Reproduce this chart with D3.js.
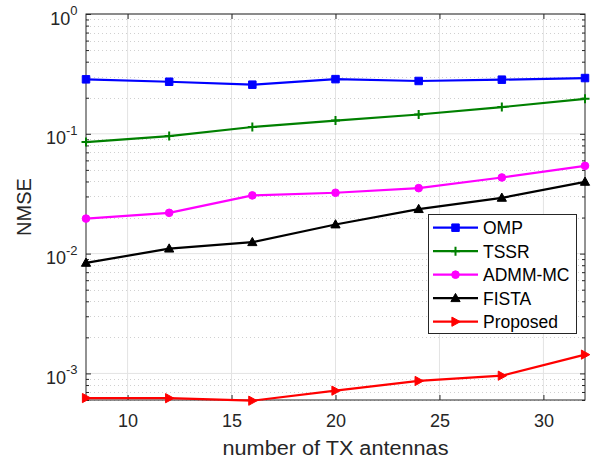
<!DOCTYPE html>
<html><head><meta charset="utf-8">
<script src="https://cdn.jsdelivr.net/npm/d3@7"></script>
<style>
html,body{margin:0;padding:0;background:#fff;}
svg{display:block;font-family:"Liberation Sans",Arial,Helvetica,sans-serif;}
</style></head>
<body><svg id="chart" width="593" height="460"></svg>
<script>
// ---- data ----
const antennas = [8, 12, 16, 20, 24, 28, 32];
const seriesNames = ["OMP", "TSSR", "ADMM-MC", "FISTA", "Proposed"];
const ompNMSE = [0.285, 0.272, 0.257, 0.286, 0.276, 0.283, 0.292];
const tssrNMSE = [0.0853, 0.0957, 0.114, 0.129, 0.145, 0.167, 0.196];
const admmNMSE = [0.0196, 0.0219, 0.0306, 0.0322, 0.0352, 0.0432, 0.054];
const fistaNMSE = [0.00837, 0.0110, 0.01245, 0.0175, 0.0235, 0.0292, 0.0397];
const proposedNMSE = [0.000623, 0.000621, 0.000592, 0.000718, 0.000865, 0.000957, 0.001435];
const xTickValues = [10, 15, 20, 25, 30];
const yTickExponents = [-3, -2, -1, 0];
const xLabel = "number of TX antennas";
const yLabel = "NMSE";

// ---- layout ----
const svg = d3.select("#chart");
const L = 86, R = 585, T = 14, B = 400;
const axisCol = "#262626";
const x = d3.scaleLinear().domain([8, 32]).range([L, R]);
const y = d3.scaleLog().domain([6e-4, 1]).range([B, T]);

const series = [
  {name: seriesNames[0], vals: ompNMSE, color: "#0000ff", marker: "square"},
  {name: seriesNames[1], vals: tssrNMSE, color: "#008000", marker: "plus"},
  {name: seriesNames[2], vals: admmNMSE, color: "#ff00ff", marker: "circle"},
  {name: seriesNames[3], vals: fistaNMSE, color: "#000000", marker: "tri"},
  {name: seriesNames[4], vals: proposedNMSE, color: "#ff0000", marker: "right"}
];

// minor tick values
const minorVals = [];
for (let d = -4; d <= 0; d++) for (let k = 2; k <= 9; k++) {
  const v = k * Math.pow(10, d);
  if (v >= 6e-4 && v <= 1) minorVals.push(v);
}
const majorY = yTickExponents.map(e => Math.pow(10, e));

// ---- grid ----
const grid = svg.append("g");
grid.selectAll(".gx").data(xTickValues).join("line")
  .attr("x1", d => x(d)).attr("x2", d => x(d)).attr("y1", T).attr("y2", B)
  .attr("stroke", "#e3e3e3").attr("stroke-width", 1);
grid.selectAll(".gym").data(minorVals).join("line")
  .attr("x1", L).attr("x2", R).attr("y1", d => Math.round(y(d)) + 0.5).attr("y2", d => Math.round(y(d)) + 0.5)
  .attr("stroke", "#d0d0d0").attr("stroke-width", 1).attr("stroke-dasharray", "1,3");
grid.selectAll(".gy").data(majorY).join("line")
  .attr("x1", L).attr("x2", R).attr("y1", d => y(d)).attr("y2", d => y(d))
  .attr("stroke", "#e3e3e3").attr("stroke-width", 1);

// ---- axes (ticks inside) ----
const ax = svg.append("g").attr("color", axisCol);
const xb = ax.append("g").attr("transform", `translate(0,${B})`)
  .call(d3.axisBottom(x).tickValues(xTickValues).tickSizeInner(-5).tickSizeOuter(0).tickPadding(14).tickFormat(d3.format("d")));
xb.selectAll("text").attr("font-size", 18).attr("fill", axisCol).attr("font-family", "'Liberation Sans',Arial,sans-serif");
ax.append("g").attr("transform", `translate(0,${T})`)
  .call(d3.axisTop(x).tickValues(xTickValues).tickSizeInner(-5).tickSizeOuter(0).tickFormat(""));
ax.append("g").attr("transform", `translate(${L},0)`)
  .call(d3.axisLeft(y).tickValues(majorY).tickSizeInner(-5).tickSizeOuter(0).tickFormat(""));
ax.append("g").attr("transform", `translate(${L},0)`)
  .call(d3.axisLeft(y).tickValues(minorVals).tickSizeInner(-3).tickSizeOuter(0).tickFormat(""));
ax.append("g").attr("transform", `translate(${R},0)`)
  .call(d3.axisRight(y).tickValues(majorY).tickSizeInner(-5).tickSizeOuter(0).tickFormat(""));
ax.append("g").attr("transform", `translate(${R},0)`)
  .call(d3.axisRight(y).tickValues(minorVals).tickSizeInner(-3).tickSizeOuter(0).tickFormat(""));
ax.selectAll(".domain").remove();

// y tick labels 10^e
const yl = svg.append("g").attr("fill", axisCol);
yTickExponents.forEach(e => {
  const t = yl.append("text").attr("x", 77.5).attr("y", y(Math.pow(10, e)) + 10.5)
    .attr("text-anchor", "end").attr("font-size", 18);
  t.append("tspan").text("10");
  t.append("tspan").attr("font-size", 13).attr("dy", -9.5).text(String(e));
});

// box
svg.append("rect").attr("x", L).attr("y", T).attr("width", R - L).attr("height", B - T)
  .attr("fill", "none").attr("stroke", axisCol).attr("stroke-width", 1);

// ---- markers ----
function markerPath(kind) {
  switch (kind) {
    case "square": return "M-3.75,-3.75H3.75V3.75H-3.75Z";
    case "plus": return "M-4.5,0H4.5M0,-4.5V4.5";
    case "circle": return d3.symbol(d3.symbolCircle, 46)();
    case "tri": return "M0,-4.8L4.6,3.4L-4.6,3.4Z";
    case "right": return "M4.8,0L-3.6,4.6L-3.6,-4.6Z";
  }
}
function drawMarker(g, kind, color) {
  const p = g.append("path").attr("d", markerPath(kind));
  if (kind === "plus") p.attr("fill", "none").attr("stroke", color).attr("stroke-width", 2);
  else p.attr("fill", color).attr("stroke", color).attr("stroke-width", 1);
}

// ---- lines ----
const line = d3.line().x((d, i) => x(antennas[i])).y(d => y(d));
const plot = svg.append("g");
series.forEach(s => {
  plot.append("path").datum(s.vals).attr("d", line)
    .attr("fill", "none").attr("stroke", s.color).attr("stroke-width", 2.2).attr("stroke-linejoin", "round");
  s.vals.forEach((v, i) => {
    const g = plot.append("g").attr("transform", `translate(${x(antennas[i])},${y(v)})`);
    drawMarker(g, s.marker, s.color);
  });
});

// ---- labels ----
svg.append("text").attr("x", (L + R) / 2).attr("y", 455).attr("text-anchor", "middle")
  .attr("font-size", 20).attr("textLength", 226).attr("lengthAdjust", "spacingAndGlyphs")
  .attr("fill", axisCol).text(xLabel);
svg.append("text").attr("transform", `translate(31,${(T + B) / 2}) rotate(-90)`).attr("text-anchor", "middle")
  .attr("font-size", 20).attr("fill", axisCol).text(yLabel);

// ---- legend ----
const lg = svg.append("g");
lg.append("rect").attr("x", 428.5).attr("y", 214.5).attr("width", 148).attr("height", 119)
  .attr("fill", "#fff").attr("stroke", axisCol).attr("stroke-width", 1);
series.forEach((s, i) => {
  const cy = 227.7 + i * 23.5;
  lg.append("line").attr("x1", 433).attr("x2", 478).attr("y1", cy).attr("y2", cy)
    .attr("stroke", s.color).attr("stroke-width", 2.2);
  const g = lg.append("g").attr("transform", `translate(455.5,${cy})`);
  drawMarker(g, s.marker, s.color);
  lg.append("text").attr("x", 483).attr("y", cy + 6.3).attr("font-size", 17.5).attr("fill", "#000").text(s.name);
});
</script></body></html>
